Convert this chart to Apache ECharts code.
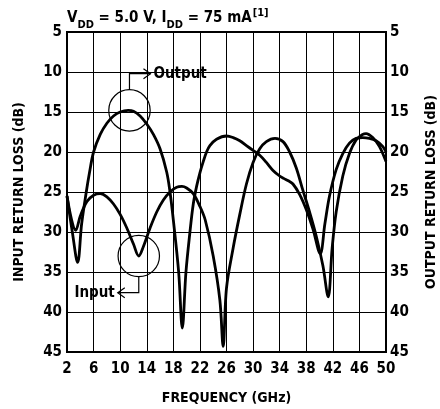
<!DOCTYPE html>
<html><head><meta charset="utf-8">
<script src="https://cdn.jsdelivr.net/npm/echarts@6/dist/echarts.min.js"></script>
<style>html,body{margin:0;padding:0;background:#fff}#c{width:440px;height:409px}</style>
</head><body><div id="c"></div>
<script>
var FONT = "'Liberation Sans Narrow','DejaVu Sans Condensed',Arial,sans-serif";
var xTicks = [2, 6, 10, 14, 18, 22, 26, 30, 34, 38, 42, 46, 50];
var yTicks = [5, 10, 15, 20, 25, 30, 35, 40, 45];
var outputFreq = [2, 2.8, 3.6, 4.2, 4.9, 5.4, 6, 7, 8, 9, 10, 11.2, 12, 13, 14, 15, 16, 17, 17.5, 18, 18.8, 19.35, 19.9, 20.5, 21, 21.5, 22, 22.5, 23, 23.5, 24.5, 26, 27, 28, 29, 30, 31, 32, 33, 34, 34.6, 35.3, 36, 37, 38, 39, 40.1, 40.8, 41.5, 42.5, 43.5, 44.5, 45.5, 46.5, 47.5, 48.5, 49.5, 50];
var outputLoss = [25.5, 30, 33.8, 29, 25, 22.5, 20, 17.8, 16.4, 15.5, 15, 14.8, 14.9, 15.5, 16.5, 17.8, 19.6, 22.5, 25, 28.5, 35, 42, 35, 30, 26.5, 24.3, 22.6, 21.2, 20, 19.2, 18.4, 18, 18.2, 18.6, 19.2, 19.8, 20.4, 21.3, 22.3, 23, 23.3, 23.6, 24, 25.3, 27.2, 29.6, 32.7, 29, 25.5, 22.2, 20.2, 18.9, 18.3, 18.2, 18.3, 18.6, 19.3, 20];
var inputFreq = [2, 2.7, 3.3, 4, 5, 6, 7, 8, 9, 10, 11, 12, 12.8, 13.5, 14.5, 15.5, 16.5, 17.5, 18.5, 19.3, 20, 21, 22, 22.8, 24, 25, 25.5, 26, 27, 28, 29, 30, 31, 32, 33.3, 34.5, 35.5, 36.5, 37.5, 38.5, 39.5, 40.5, 41.3, 41.9, 42.5, 43.5, 44.5, 45.5, 46.5, 47, 48, 49, 50];
var inputLoss = [25.5, 28.5, 29.8, 28, 26.2, 25.4, 25.2, 25.6, 26.5, 27.8, 29.5, 31.5, 33, 31.8, 29.5, 27.5, 26, 25, 24.4, 24.3, 24.5, 25.2, 26.8, 28.5, 33, 38.5, 44.3, 37, 32, 27.8, 24, 21.3, 19.6, 18.7, 18.3, 18.7, 20, 22, 24.8, 27.5, 30.5, 34.2, 38.1, 32, 27.5, 23, 20.2, 18.5, 17.8, 17.7, 18.2, 19.3, 21.2];

function pairs(xs, ys) { return xs.map(function (x, i) { return [x, ys[i]]; }); }

var chart = echarts.init(document.getElementById('c'), null, {renderer: 'canvas'});
var labelStyle = {color: '#000', fontFamily: FONT, fontWeight: 'bold', fontSize: 15};
var yCommon = {
  type: 'value', inverse: true, min: yTicks[0], max: yTicks[yTicks.length - 1], interval: 5,
  axisLine: {show: true, lineStyle: {color: '#000', width: 2}},
  axisTick: {show: false},
  splitLine: {show: true, lineStyle: {color: '#000', width: 1}},
  nameLocation: 'middle', nameRotate: 90,
  nameTextStyle: {color: '#000', fontFamily: FONT, fontWeight: 'bold', fontSize: 14}
};
chart.setOption({
  animation: false,
  title: {
    left: 67, top: 8, padding: 0,
    text: '{b|V}{s|DD}{b| = 5.0 V, I}{s|DD}{b| = 75 mA}{p|[1]}',
    textStyle: {
      rich: {
        b: {fontFamily: FONT, fontWeight: 'bold', fontSize: 15, color: '#000', verticalAlign: 'bottom', lineHeight: 18},
        s: {fontFamily: FONT, fontWeight: 'bold', fontSize: 11, color: '#000', verticalAlign: 'bottom', lineHeight: 13, padding: [0, 0, -5, 0]},
        p: {fontFamily: FONT, fontWeight: 'bold', fontSize: 11, color: '#000', verticalAlign: 'top', lineHeight: 11, padding: [0, 0, 7, 1]}
      }
    }
  },
  grid: {left: 67, right: 54, top: 32, bottom: 57, outerBoundsMode: 'none', containLabel: false,
    show: true, borderColor: '#000', borderWidth: 2},
  xAxis: {
    type: 'value', min: xTicks[0], max: xTicks[xTicks.length - 1], interval: 4,
    name: 'FREQUENCY (GHz)', nameLocation: 'middle', nameGap: 39,
    nameTextStyle: {color: '#000', fontFamily: FONT, fontWeight: 'bold', fontSize: 14},
    axisLine: {show: true, lineStyle: {color: '#000', width: 2}},
    axisTick: {show: false},
    axisLabel: Object.assign({margin: 10}, labelStyle),
    splitLine: {show: true, lineStyle: {color: '#000', width: 1}}
  },
  yAxis: [
    Object.assign({}, yCommon, {position: 'left', name: 'INPUT RETURN LOSS (dB)', nameGap: 41,
      axisLabel: Object.assign({margin: 5}, labelStyle)}),
    Object.assign({}, yCommon, {position: 'right', name: 'OUTPUT RETURN LOSS (dB)', nameGap: 38,
      axisLabel: Object.assign({margin: 4}, labelStyle), splitLine: {show: false}})
  ],
  series: [
    {name: 'Output', type: 'line', data: pairs(outputFreq, outputLoss), showSymbol: false, smooth: 0.35,
      lineStyle: {color: '#000', width: 2.8}, z: 3},
    {name: 'Input', type: 'line', data: pairs(inputFreq, inputLoss), showSymbol: false, smooth: 0.35,
      lineStyle: {color: '#000', width: 2.8}, z: 3}
  ]
});

// annotations anchored in data coordinates
var oc = chart.convertToPixel({gridIndex: 0}, [11.4, 14.8]);
var ic = chart.convertToPixel({gridIndex: 0}, [12.8, 33]);
var r = 20.7;
var thin = {stroke: '#000', lineWidth: 1.2, fill: null};
var txt = {fill: '#000', fontFamily: FONT, fontWeight: 'bold', fontSize: 15};
chart.setOption({
  graphic: [
    {type: 'circle', shape: {cx: oc[0], cy: oc[1], r: r}, style: thin, z: 10},
    {type: 'polyline', shape: {points: [[oc[0], oc[1] - r], [oc[0], oc[1] - r - 16], [oc[0] + 21, oc[1] - r - 16]]}, style: thin, z: 10},
    {type: 'polyline', shape: {points: [[oc[0] + 14, oc[1] - r - 21], [oc[0] + 21, oc[1] - r - 16], [oc[0] + 14, oc[1] - r - 11]]}, style: thin, z: 10},
    {type: 'text', x: oc[0] + 24, y: oc[1] - r - 16, style: Object.assign({text: 'Output', verticalAlign: 'middle'}, txt), z: 10},
    {type: 'circle', shape: {cx: ic[0], cy: ic[1], r: r}, style: thin, z: 10},
    {type: 'polyline', shape: {points: [[ic[0], ic[1] + r], [ic[0], ic[1] + r + 16], [ic[0] - 21, ic[1] + r + 16]]}, style: thin, z: 10},
    {type: 'polyline', shape: {points: [[ic[0] - 14, ic[1] + r + 11], [ic[0] - 21, ic[1] + r + 16], [ic[0] - 14, ic[1] + r + 21]]}, style: thin, z: 10},
    {type: 'text', x: ic[0] - 24, y: ic[1] + r + 16, style: Object.assign({text: 'Input', verticalAlign: 'middle', align: 'right'}, txt), z: 10}
  ]
});
</script></body></html>
